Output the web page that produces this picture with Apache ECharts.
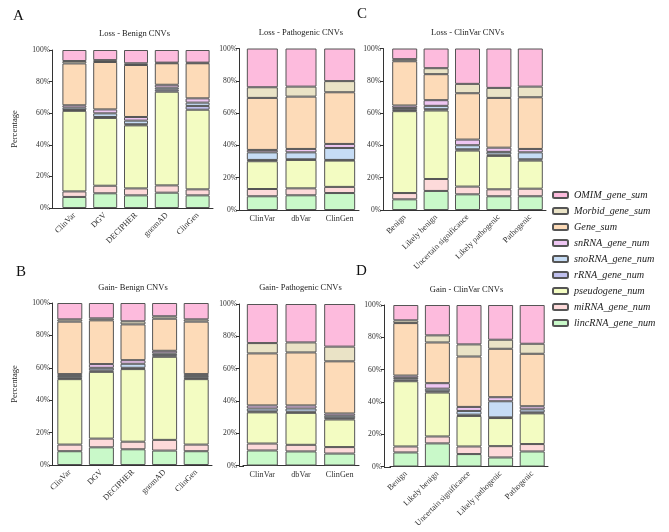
<!DOCTYPE html>
<html><head><meta charset="utf-8">
<script src="https://cdn.jsdelivr.net/npm/echarts@6/dist/echarts.min.js"></script>
<style>html,body{margin:0;padding:0;background:#fff}#c{width:669px;height:532px}</style>
</head><body><div id="c"></div>
<script>
// series names, bottom to top of each stack
const seriesNames = ['lincRNA_gene_num','miRNA_gene_num','pseudogene_num','rRNA_gene_num','snoRNA_gene_num','snRNA_gene_num','Gene_sum','Morbid_gene_sum','OMIM_gene_sum'];
const seriesColors = ['#C9F9C9','#FDDADA','#F3FCC2','#C0C0EE','#C6DCF5','#EEC6F2','#FDDBB8','#EAE3C6','#FDBBDD'];

const benignCats = ['ClinVar','DGV','DECIPHER','gnomAD','ClinGen'];
const pathoCats = ['ClinVar','dbVar','ClinGen'];
const clinvarCats = ['Benign','Likely benign','Uncertain significance','Likely pathogenic','Pathogenic'];

// each row follows seriesNames order (percent per category)
const lossBenign = [
  [7, 9.3, 8, 9.7, 8],
  [3.5, 4.8, 4.4, 4.6, 3.8],
  [51, 42.9, 39.9, 59.3, 50.4],
  [0.5, 0.6, 0.7, 1.3, 2.4],
  [1.5, 2.3, 2.3, 1.3, 2.1],
  [1.5, 2.5, 2.3, 1.8, 2.7],
  [26.5, 30, 32.9, 13.6, 22.2],
  [1.5, 1.2, 1.1, 0.4, 0.4],
  [7, 6.4, 8.4, 8, 8]
];
const lossPatho = [
  [8.5, 9.1, 10.5],
  [4.5, 4.3, 3.8],
  [17.2, 17.6, 16.3],
  [0.8, 0.4, 0.4],
  [4.7, 4.3, 7.4],
  [1.5, 2.1, 2.5],
  [32.2, 32.4, 32],
  [6.6, 6.2, 6.9],
  [24, 23.6, 20.2]
];
const lossClinvar = [
  [6.6, 11.8, 9.7, 8.5, 8.5],
  [3.9, 7.4, 4.8, 4.3, 4.7],
  [50.7, 42.4, 22.3, 20.7, 17.4],
  [0.8, 0.8, 0.8, 0.8, 0.8],
  [1.2, 2.1, 2.5, 1.7, 4.3],
  [1.5, 3.5, 3.5, 2.6, 2.1],
  [27.4, 16.1, 28.7, 30.8, 32],
  [1.3, 3.7, 5.8, 6.2, 6.6],
  [6.6, 12.2, 21.9, 24.4, 23.6]
];
const gainBenign = [
  [8.5, 10.9, 9.7, 8.9, 8.5],
  [4.1, 5.4, 4.7, 6.6, 4.1],
  [40.4, 41.2, 44.8, 51.3, 40.4],
  [0.8, 0.9, 0.8, 1.0, 0.8],
  [1.2, 1.6, 2.5, 1.1, 1.2],
  [1.1, 2.3, 2.2, 1.6, 1.1],
  [32.4, 27, 22.1, 19.8, 32.4],
  [1.4, 1.2, 1.9, 1.5, 1.4],
  [10.1, 9.5, 11.3, 8.2, 10.1]
];
const gainPatho = [
  [9.3, 8.7, 7.4],
  [4.3, 4.1, 4.0],
  [19.3, 19.8, 17.1],
  [0.6, 0.7, 0.8],
  [1.8, 2.0, 1.5],
  [1.9, 1.9, 1.4],
  [32.2, 32.8, 32.3],
  [6.4, 6.2, 9.1],
  [24.2, 23.8, 26.4]
];
const gainClinvar = [
  [8.7, 14.3, 7.7, 5.6, 9.3],
  [3.7, 4.3, 4.7, 7.0, 4.6],
  [40.4, 27.2, 18.9, 17.4, 19.0],
  [1.0, 0.8, 0.8, 0.4, 0.6],
  [1.1, 1.6, 2.3, 10.0, 1.9],
  [1.4, 3.4, 2.5, 2.5, 1.9],
  [32.5, 25.2, 31.2, 30.0, 32.5],
  [1.7, 4.4, 7.5, 5.6, 6.2],
  [9.5, 18.8, 24.4, 21.5, 24.0]
];
const yTicks = ['0%','20%','40%','60%','80%','100%'];

const FONT = '"Liberation Serif", "Times New Roman", serif';
const panels = [
  {title:'Loss - Benign CNVs', cats:benignCats, data:lossBenign, left:59, width:154, top:50, height:158, off:7, bw:24, rot:45, ylabel:true, tx:134.5, ty:29},
  {title:'Loss - Pathogenic CNVs', cats:pathoCats, data:lossPatho, left:243, width:116, top:48.5, height:161.5, off:4, bw:31, rot:0, tx:301, ty:28},
  {title:'Loss - ClinVar CNVs', cats:clinvarCats, data:lossClinvar, left:389, width:157, top:48.5, height:161.5, off:6, bw:25, rot:45, tx:467.5, ty:28.5},
  {title:'Gain- Benign CNVs', cats:benignCats, data:gainBenign, left:54, width:158, top:303, height:162, off:2, bw:25, rot:45, ylabel:true, tx:133, ty:283},
  {title:'Gain- Pathogenic CNVs', cats:pathoCats, data:gainPatho, left:243, width:116, top:304, height:161.5, off:4, bw:31, rot:0, tx:300.5, ty:283.5},
  {title:'Gain - ClinVar CNVs', cats:clinvarCats, data:gainClinvar, left:390, width:158, top:305, height:161.5, off:6, bw:25, rot:45, tx:466.5, ty:285}
];

const axisCol = '#333';
const graphics = [
  {type:'text', left:13, top:9, style:{text:'A', font:'15px '+FONT, fill:'#111'}},
  {type:'text', left:357, top:7, style:{text:'C', font:'15px '+FONT, fill:'#111'}},
  {type:'text', left:16, top:265, style:{text:'B', font:'15px '+FONT, fill:'#111'}},
  {type:'text', left:356, top:264, style:{text:'D', font:'15px '+FONT, fill:'#111'}}
];
// extend each x-axis line to its (offset) y-axis line
panels.forEach(p=>{
  const yb = Math.round(p.top + p.height) + 0.5;
  graphics.push({type:'line', silent:true, shape:{x1:p.left - p.off, y1:yb, x2:p.left + 1, y2:yb},
    style:{stroke:axisCol, lineWidth:1}});
});

const option = {
  animation:false,
  backgroundColor:'#fff',
  title:[],
  grid:[], xAxis:[], yAxis:[], series:[],
  legend:{
    orient:'vertical', left:552, top:190, padding:0, itemWidth:15, itemHeight:6, itemGap:6,
    data:seriesNames.slice().reverse(),
    textStyle:{fontFamily:FONT, fontStyle:'italic', fontSize:10.2, color:'#222', padding:[0,0,0,1]}
  },
  graphic:graphics
};

panels.forEach((p,i)=>{
  option.title.push({text:p.title, left:p.tx, top:p.ty, textAlign:'center', padding:0,
    textStyle:{fontFamily:FONT, fontSize:8.5, fontWeight:'normal', color:'#222'}});
  option.grid.push({left:p.left, top:p.top, width:p.width, height:p.height, containLabel:false});
  option.xAxis.push({type:'category', gridIndex:i, data:p.cats,
    axisLine:{lineStyle:{color:axisCol, width:1}},
    axisTick:{alignWithLabel:true, length:4, lineStyle:{color:axisCol}},
    axisLabel:{rotate:p.rot, interval:0, fontFamily:FONT, fontSize:8.2, color:'#333', margin:p.rot?6:5}});
  option.yAxis.push({type:'value', gridIndex:i, min:0, max:100, interval:20, offset:p.off,
    name:p.ylabel?'Percentage':'', nameLocation:'middle', nameGap:33,
    nameTextStyle:{fontFamily:FONT, fontSize:8.6, color:'#222'},
    axisLine:{show:true, lineStyle:{color:axisCol, width:1}},
    axisTick:{show:true, length:3, lineStyle:{color:axisCol}},
    splitLine:{show:false},
    axisLabel:{formatter:(v)=>yTicks[v/20], fontFamily:FONT, fontSize:7.6, color:'#333', margin:2}});
  seriesNames.forEach((n,k)=>{
    option.series.push({type:'bar', name:n, stack:'s'+i, xAxisIndex:i, yAxisIndex:i,
      barWidth:p.bw, data:p.data[k],
      itemStyle:{color:seriesColors[k], borderColor:'#555', borderWidth:1}});
  });
});

const chart = echarts.init(document.getElementById('c'), null, {renderer:'canvas'});
chart.setOption(option);
</script></body></html>
